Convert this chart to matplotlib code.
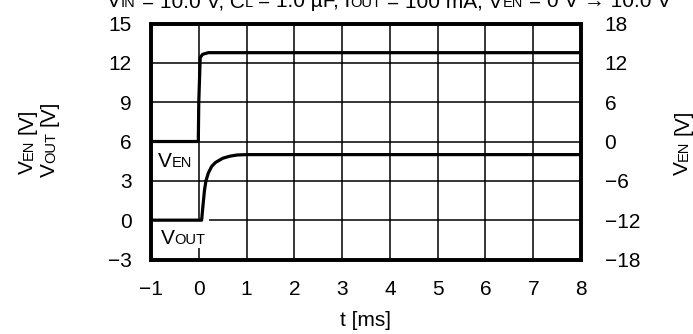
import numpy as np
import matplotlib
matplotlib.use("Agg")
import matplotlib.pyplot as plt
from matplotlib.transforms import IdentityTransform

plt.rcParams['font.family'] = ['Liberation Sans', 'DejaVu Sans']

# Time axis [ms]
t_ticks = [-1, 0, 1, 2, 3, 4, 5, 6, 7, 8]
vout_ticks = [-3, 0, 3, 6, 9, 12, 15]
ven_ticks = [-18, -12, -6, 0, 6, 12, 18]

# Enable pulse (right axis) [V]
t_en = [-1.0, -0.01, 0.0, 0.03, 0.08, 0.2, 8.0]
v_en = [0.0, 0.0, 6.0, 12.8, 13.3, 13.55, 13.55]

# Output voltage (left axis) [V]
t_out = [-1.0, 0.06, 0.09, 0.12, 0.15, 0.2, 0.27, 0.35, 0.5, 0.65, 0.8, 1.0, 8.0]
v_out = [0.0, 0.0, 1.2, 2.3, 3.0, 3.6, 4.1, 4.4, 4.72, 4.88, 4.97, 5.0, 5.0]

BIG = 15
SMALL = 10.5

W, H, DPI = 693, 334, 100
fig = plt.figure(figsize=(W / DPI, H / DPI), dpi=DPI)
ax = fig.add_axes([151 / W, 1 - 259.5 / H, 430 / W, 236 / H])
ax2 = ax.twinx()

ax.set_xlim(-1, 8)
ax.set_ylim(-3, 15)
ax2.set_ylim(-18, 18)
ax.set_xticks(t_ticks)
ax.set_yticks(vout_ticks)
ax2.set_yticks(ven_ticks)
ax.grid(True, color='black', lw=1.1)
ax.tick_params(length=0, labelsize=BIG, pad=14)
ax.tick_params(axis='x', pad=15)
ax2.tick_params(length=0, labelsize=BIG, pad=17)
for a in (ax, ax2):
    for s in a.spines.values():
        s.set_linewidth(2.6)

ax2.plot(t_en, v_en, color='black', lw=2.3, solid_capstyle='butt', zorder=5)
ax.plot(t_out, v_out, color='black', lw=2.3, solid_capstyle='butt', zorder=5)

renderer = fig.canvas.get_renderer()


def text_width(s, size):
    tmp = fig.text(0, 0, s, fontsize=size)
    w = tmp.get_window_extent(renderer).width
    tmp.remove()
    return w


def space_width(size):
    return text_width('x x', size) - text_width('xx', size)


def caps_text(x, y, parts, rotation=0, center=True, **kw):
    """Draw text built from (string, size) runs on a common baseline,
    x/y in pixels from the bottom-left of the figure."""
    widths = []
    for s, size in parts:
        lead = len(s) - len(s.lstrip(' '))
        core = s.strip(' ')
        widths.append((lead * space_width(size), text_width(core, size) if core else 0, core, size))
    total = sum(a + b for a, b, _, _ in widths)
    pos = -total / 2 if center else 0
    out = []
    for lead, w, core, size in widths:
        pos += lead
        if core:
            if rotation == 90:
                px, py = x, y + pos
            else:
                px, py = x + pos, y
            out.append(fig.text(px, py, core, fontsize=size, rotation=rotation,
                                rotation_mode='anchor', ha='left', va='baseline',
                                transform=IdentityTransform(), **kw))
        pos += w
    return out


fig.canvas.draw()

# x axis label
fig.text(366, H - 326, 't [ms]', fontsize=BIG, ha='center', va='baseline',
         transform=IdentityTransform())

# axis labels with small-caps subscripts
caps_text(33, H - 141.5, [('V', BIG), ('EN', SMALL), (' [V]', BIG)], rotation=90)
caps_text(55, H - 139, [('V', BIG), ('OUT', SMALL), (' [V]', BIG)], rotation=90)
caps_text(688, H - 142, [('V', BIG), ('EN', SMALL), (' [V]', BIG)], rotation=90)

# curve labels with white boxes over the grid
for x0, y0, sub, x1, y1 in [(158, H - 167, 'EN', 154, H - 173), (160.5, H - 244, 'OUT', 154, H - 248)]:
    arts = caps_text(x0, y0, [('V', BIG), (sub, SMALL)], center=False, zorder=4)
    fig.canvas.draw()
    bb = [a.get_window_extent(renderer) for a in arts]
    right = max(b.x1 for b in bb) + 4
    ax.add_patch(plt.Rectangle((x1, y1), right - x1, 29, transform=IdentityTransform(),
                               facecolor='white', edgecolor='none', zorder=3))

# condition line along the top edge
caps_text(389, H - 7, [('V', BIG), ('IN', SMALL), (' = 10.0 V, C', BIG), ('L', SMALL),
                       (' = 1.0 µF, I', BIG), ('OUT', SMALL), (' = 100 mA, V', BIG),
                       ('EN', SMALL), (' = 0 V → 10.0 V', BIG)])

fig.savefig('out.png', dpi=DPI)
